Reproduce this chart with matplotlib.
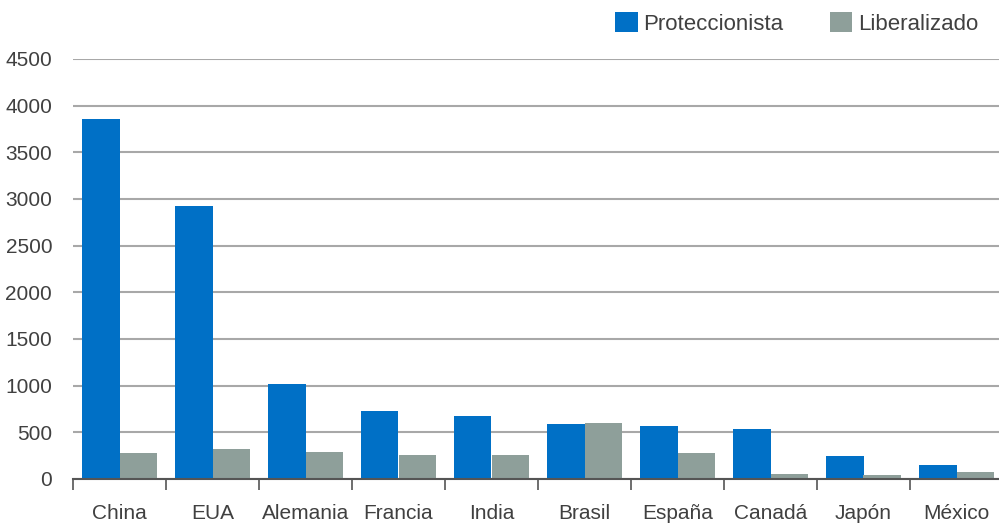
import numpy as np
import matplotlib.pyplot as plt
from matplotlib import font_manager

paises = ['China', 'EUA', 'Alemania', 'Francia', 'India', 'Brasil', 'España', 'Canadá', 'Japón', 'México']
proteccionista = [3860, 2920, 1020, 725, 672, 586, 565, 533, 243, 147]
liberalizado = [280, 320, 290, 254, 254, 597, 279, 50, 40, 72]
y_ticks = [0, 500, 1000, 1500, 2000, 2500, 3000, 3500, 4000, 4500]

names = {f.name for f in font_manager.fontManager.ttflist}
fam = 'Liberation Sans Narrow' if 'Liberation Sans Narrow' in names else 'Liberation Sans'
plt.rcParams['font.family'] = [fam, 'DejaVu Sans']

azul = '#0070C6'
gris = '#8E9F9A'
texto = '#404040'

fig = plt.figure(figsize=(9.99, 5.25), dpi=100)
ax = fig.add_axes([73 / 999, 1 - 479 / 525, 930 / 999, 420 / 525])

x = np.arange(len(paises))
w = 0.4
ax.bar(x - w / 2, proteccionista, w, color=azul, label='Proteccionista', zorder=3)
ax.bar(x + w / 2, liberalizado, w, color=gris, label='Liberalizado', zorder=3)

ax.set_xlim(-0.5, len(paises) - 0.5)
ax.set_ylim(0, 4500)
ax.set_yticks(y_ticks)
ax.set_yticklabels([str(v) for v in y_ticks], fontsize=15, color=texto)
ax.yaxis.grid(True, color='#A8A8A8', linewidth=1.5, zorder=0)
ax.tick_params(axis='y', length=0, pad=15)

ax.set_xticks(x)
ax.set_xticklabels(paises, fontsize=15, color=texto)
ax.tick_params(axis='x', length=0, pad=18)
ax.set_xticks(np.arange(len(paises) + 1) - 0.5, minor=True)
ax.tick_params(axis='x', which='minor', length=8, width=1.2, color='#555555', direction='out')

for s in ['top', 'right', 'left']:
    ax.spines[s].set_visible(False)
ax.spines['bottom'].set_color('#555555')
ax.spines['bottom'].set_linewidth(1.5)
ax.spines['bottom'].set_zorder(4)

fig.legend(loc='upper right', bbox_to_anchor=(0.999, 1.015), ncol=2, frameon=False,
           fontsize=16, labelcolor=texto, handlelength=1.0, handleheight=1.0,
           handletextpad=0.25, columnspacing=2.1)

fig.savefig('out.png', dpi=100)
